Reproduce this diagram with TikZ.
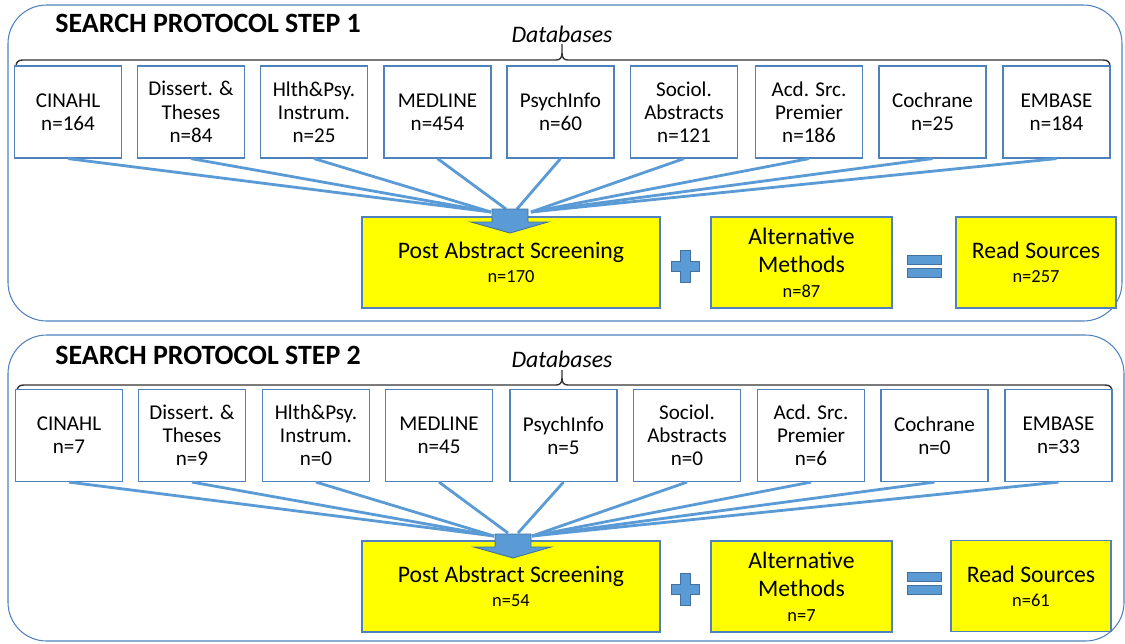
\documentclass[tikz,border=0pt]{standalone}
\usepackage{fontspec}
\setmainfont{Carlito}
\usetikzlibrary{
    positioning
}
\definecolor{azulborde}{RGB}{79,129,189}
\definecolor{azullinea}{RGB}{91,155,213}
\definecolor{azuloscuro}{RGB}{65,113,156}
\definecolor{amarillo}{RGB}{255,255,0}
\tikzset{
    db/.style={
        draw=azulborde,
        line width=0.7pt,
        fill=white,
        align=center,
        inner sep=0pt,
        minimum width=2.14cm,
        minimum height=1.84cm,
        font=\fontsize{12}{13.2}\selectfont
    },
    resultado/.style={
        draw=azulborde,
        line width=0.7pt,
        fill=amarillo,
        align=center,
        inner sep=0pt,
        minimum height=1.82cm,
        font=\fontsize{13.5}{16}\selectfont
    },
    abanico/.style={
        draw=azullinea,
        line width=1.6pt
    },
    signo/.style={
        fill=azullinea,
        draw=azuloscuro,
        line width=0.5pt
    },
    panel/.style={
        draw=azulborde,
        line width=0.6pt,
        rounded corners=22pt
    },
    llave/.style={
        draw=black!80,
        line width=0.8pt
    },
    titulo/.style={
        anchor=base west,
        inner sep=0pt,
        font=\fontsize{15.9}{18}\selectfont\bfseries
    },
    etiqueta/.style={
        anchor=base,
        inner sep=0pt,
        font=\fontsize{13.5}{16}\selectfont\itshape
    }
}
\newcommand{\cuenta}[1]{{\fontsize{10.5}{12}\selectfont #1}}

\begin{document}
\begin{tikzpicture}[
    x=0.02cm,
    y=-0.02cm
]
    \useasboundingbox (0,0) rectangle (1125,643);

    % Marcos
    \draw[panel] (8,5) rectangle (1122,321);
    \draw[panel] (8,335) rectangle (1124,641);

    % Titulos
    \node[titulo]   (t1) at (55,32)   {SEARCH PROTOCOL STEP 1};
    \node[titulo]   (t2) at (55,364)  {SEARCH PROTOCOL STEP 2};
    \node[etiqueta] (d1) at (562,42)  {Databases};
    \node[etiqueta] (d2) at (562,367) {Databases};

    % Llaves
    \draw[llave] (16,79) -- (16,67) .. controls (16,62) and (18,60) .. (23,60)
        -- (556,60) .. controls (560,60) and (562,58) .. (562,53) -- (562,44)
        -- (562,53) .. controls (562,58) and (564,60) .. (568,60)
        -- (1103,60) .. controls (1108,60) and (1110,62) .. (1110,67) -- (1110,80);
    \draw[llave] (17,403) -- (17,392) .. controls (17,387) and (19,385) .. (24,385)
        -- (556,385) .. controls (560,385) and (562,383) .. (562,378) -- (562,370)
        -- (562,378) .. controls (562,383) and (564,385) .. (568,385)
        -- (1105,385) .. controls (1110,385) and (1112,387) .. (1112,392) -- (1112,402);

    % Bases de datos, paso 1
    \node[db] (a1) at (68,112)     {CINAHL\\n=164};
    \node[db] (a2) at (191,112)    {Dissert. \&\\Theses\\n=84};
    \node[db] (a3) at (314,112)    {Hlth\&Psy.\\Instrum.\\n=25};
    \node[db] (a4) at (437.5,112)  {MEDLINE\\n=454};
    \node[db] (a5) at (560.5,112)  {PsychInfo\\n=60};
    \node[db] (a6) at (684,112)    {Sociol.\\Abstracts\\n=121};
    \node[db] (a7) at (809,112)    {Acd. Src.\\Premier\\n=186};
    \node[db] (a8) at (932.5,112)  {Cochrane\\n=25};
    \node[db] (a9) at (1056.5,112) {EMBASE\\n=184};

    % Bases de datos, paso 2
    \node[db] (b1) at (69,435.5)     {CINAHL\\n=7};
    \node[db] (b2) at (192,435.5)    {Dissert. \&\\Theses\\n=9};
    \node[db] (b3) at (316,435.5)    {Hlth\&Psy.\\Instrum.\\n=0};
    \node[db] (b4) at (439,435.5)    {MEDLINE\\n=45};
    \node[db] (b5) at (563.5,435.5)  {PsychInfo\\n=5};
    \node[db] (b6) at (687,435.5)    {Sociol.\\Abstracts\\n=0};
    \node[db] (b7) at (811,435.5)    {Acd. Src.\\Premier\\n=6};
    \node[db] (b8) at (934.5,435.5)  {Cochrane\\n=0};
    \node[db] (b9) at (1058.5,435.5) {EMBASE\\n=33};

    % Puntos de llegada
    \coordinate (iz1) at (491,212);
    \coordinate (ci1) at (506,209);
    \coordinate (cd1) at (517,209);
    \coordinate (de1) at (531,212);
    \coordinate (iz2) at (494,536);
    \coordinate (ci2) at (508,533);
    \coordinate (cd2) at (518,533);
    \coordinate (de2) at (532,536);

    % Abanicos
    \path[abanico]
        (a1.south) edge (iz1)
        (a2.south) edge (iz1)
        (a3.south) edge (iz1)
        (a4.south) edge (ci1)
        (a5.south) edge (cd1)
        (a6.south) edge (de1)
        (a7.south) edge (de1)
        (a8.south) edge (de1)
        (a9.south) edge (de1);
    \path[abanico]
        (b1.south) edge (iz2)
        (b2.south) edge (iz2)
        (b3.south) edge (iz2)
        (b4.south) edge (ci2)
        (b5.south) edge (cd2)
        (b6.south) edge (de2)
        (b7.south) edge (de2)
        (b8.south) edge (de2)
        (b9.south) edge (de2);

    % Resultados
    \node[resultado, minimum width=5.96cm] (pa1) at (511,262.5)
        {Post Abstract Screening\\[-2.5pt]\cuenta{n=170}};
    \node[resultado, minimum width=3.62cm] (am1) at (801.5,262.5)
        {Alternative\\Methods\\[-2pt]\cuenta{n=87}};
    \node[resultado, minimum width=3.2cm]  (rs1) at (1036,262.5)
        {Read Sources\\[-2.5pt]\cuenta{n=257}};
    \node[resultado, minimum width=5.96cm] (pa2) at (511,586.5)
        {Post Abstract Screening\\[-2.5pt]\cuenta{n=54}};
    \node[resultado, minimum width=3.62cm] (am2) at (801.5,586.5)
        {Alternative\\Methods\\[-2pt]\cuenta{n=7}};
    \node[resultado, minimum width=3.2cm]  (rs2) at (1031,586)
        {Read Sources\\[-2.5pt]\cuenta{n=61}};

    % Flechas
    \coordinate (p1) at (510,233);
    \coordinate (p2) at (513,558);
    \draw[signo] (p1) -- ++(-39,-11) -- ++(21,0) -- ++(0,-13) -- ++(36,0)
        -- ++(0,13) -- ++(20,0) -- cycle;
    \draw[signo] (p2) -- ++(-39,-11) -- ++(21,0) -- ++(0,-13) -- ++(36,0)
        -- ++(0,13) -- ++(20,0) -- cycle;

    % Signos
    \coordinate (mas1) at (685,266);
    \coordinate (mas2) at (685,589);
    \coordinate (igual1) at (924,266);
    \coordinate (igual2) at (924,583.5);
    \draw[signo, shift={(mas1)}] (-14,-5) -- (-5,-5) -- (-5,-16) -- (5,-16)
        -- (5,-5) -- (14,-5) -- (14,5) -- (5,5) -- (5,16) -- (-5,16)
        -- (-5,5) -- (-14,5) -- cycle;
    \draw[signo, shift={(mas2)}] (-14,-5) -- (-5,-5) -- (-5,-16) -- (5,-16)
        -- (5,-5) -- (14,-5) -- (14,5) -- (5,5) -- (5,16) -- (-5,16)
        -- (-5,5) -- (-14,5) -- cycle;
    \draw[signo, shift={(igual1)}] (-17,-11) rectangle (17,-2) (-17,2) rectangle (17,11);
    \draw[signo, shift={(igual2)}] (-17,-11) rectangle (17,-2) (-17,2) rectangle (17,11);

\end{tikzpicture}
\end{document}
